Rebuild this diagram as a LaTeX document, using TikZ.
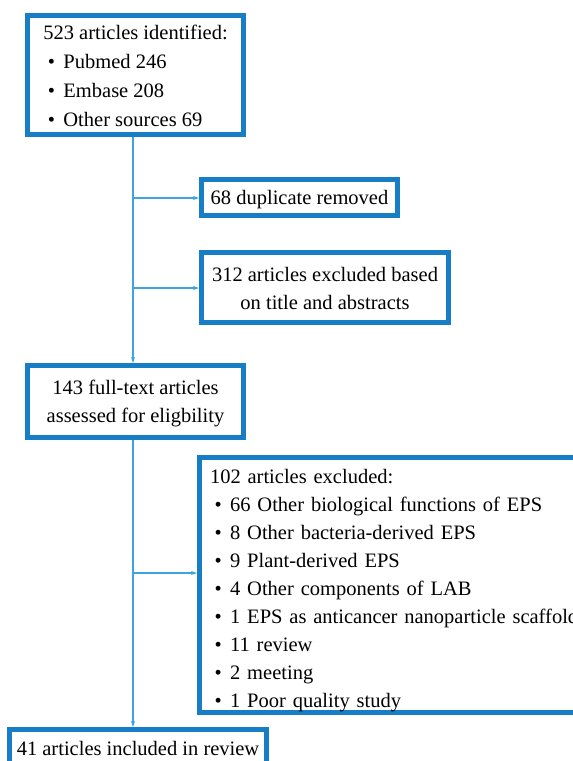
\documentclass[tikz,border=0pt]{standalone}
\usepackage{fontspec}
\setmainfont{Liberation Serif}
\usetikzlibrary{arrows.meta}
\definecolor{boxblue}{HTML}{177DC4}
\definecolor{lineblue}{HTML}{3FA3E3}
\newcommand{\myblt}{\hspace*{4.5pt}•\hspace{8.5pt}}
\newcommand{\mystrut}[1]{\rule{0pt}{#1}}
\begin{document}
\begin{tikzpicture}[x=1pt,y=-1pt,
  box/.style={draw=boxblue,line width=5pt,fill=white,inner xsep=0pt,inner ysep=0pt,
    font=\fontsize{20.5}{28}\selectfont},
  conn/.style={draw=lineblue,line width=1.1pt,-{Stealth[length=6pt,width=4pt]}}]
\useasboundingbox[fill=white] (0,0) rectangle (573,761);
\node[box,align=left,minimum width=216pt,minimum height=119pt,
  font=\fontsize{20.5}{28.7}\selectfont] (b1) at (135.5,75)
  {\mystrut{16.2pt}523 articles identified:\\\myblt Pubmed 246\\\myblt Embase 208\\\myblt Other sources 69};
\node[box,align=center,minimum width=196pt,minimum height=36pt] (b2) at (299.5,197.5)
  {\mystrut{19.2pt}68 duplicate removed};
\node[box,align=center,minimum width=247pt,minimum height=70pt] (b3) at (325,287.5)
  {\mystrut{16pt}312 articles excluded based\\on title and abstracts};
\node[box,align=center,minimum width=216pt,minimum height=72pt] (b4) at (135.5,401.5)
  {\mystrut{18.2pt}143 full-text articles\\assessed for eligbility};
\node[box,align=left,inner xsep=10.5pt,text width=399.5pt,minimum height=255pt] (b5) at (409.75,585)
  {\mystrut{25.2pt}102 articles excluded:\\
   \myblt 66 Other biological functions of EPS\\
   \myblt 8 Other bacteria-derived EPS\\
   \myblt 9 Plant-derived EPS\\
   \myblt 4 Other components of LAB\\
   \myblt 1 EPS as anticancer nanoparticle scaffold\\
   \myblt 11 review\\
   \myblt 2 meeting\\
   \myblt 1 Poor quality study};
\node[box,align=center,minimum width=257pt,minimum height=37pt] (b6) at (138,748)
  {\mystrut{15pt}41 articles included in review};
\coordinate (v) at (133,0);
\coordinate (j1) at (133,198);
\coordinate (j2) at (133,288);
\coordinate (j3) at (133,573);
\draw[conn] (b1.south -| v) -- (b4.north -| v);
\draw[conn] (j1) -- (j1 -| b2.west);
\draw[conn] (j2) -- (j2 -| b3.west);
\draw[conn] (b4.south -| v) -- (b6.north -| v);
\draw[conn] (j3) -- (j3 -| b5.west);
\end{tikzpicture}
\end{document}
